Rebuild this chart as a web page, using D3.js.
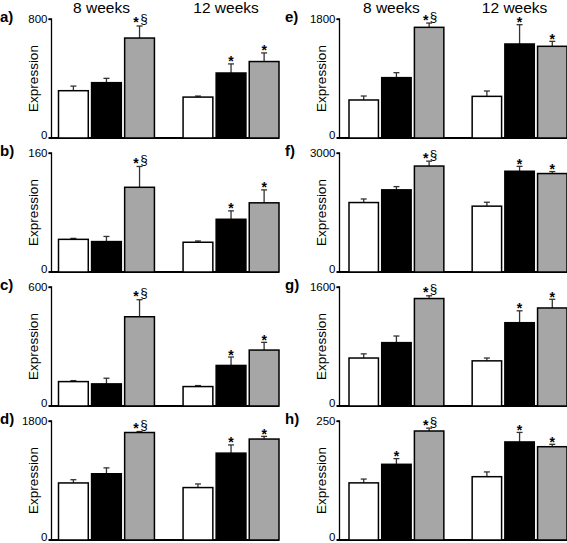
<!DOCTYPE html>
<html>
<head>
<meta charset="utf-8">
<script src="https://cdn.jsdelivr.net/npm/d3@7"></script>
<style>
  body { margin: 0; background: #fff; }
  svg { display: block; }
  text { font-family: "Liberation Sans", Arial, sans-serif; }
</style>
</head>
<body>
<svg id="chart" width="567" height="543"></svg>
<script>
// ---- data ----
const groups = ["8 weeks", "12 weeks"];
const series = ["control", "treatA", "treatB"];
const panelLabels = ["a)", "b)", "c)", "d)", "e)", "f)", "g)", "h)"];
const yMaxes = [800, 160, 600, 1800, 1800, 3000, 1600, 250];
// means: [8w ctrl, 8w A, 8w B, 12w ctrl, 12w A, 12w B]
const meansA = [318, 372, 672, 275, 437, 514];
const meansB = [43.9, 40.9, 113.9, 40, 70.9, 93];
const meansC = [123, 111.5, 450, 98, 204.5, 282];
const meansD = [863, 1002, 1626, 793, 1314, 1527];
const meansE = [575, 913, 1674, 630, 1422, 1387];
const meansF = [1751, 2071, 2671, 1660, 2540, 2482];
const meansG = [645, 852, 1445, 607, 1120, 1318];
const meansH = [120, 159, 229, 133, 206, 196];
// standard errors (upper)
const semA = [31, 29, 81, 7, 61, 58];
const semB = [1.3, 6.9, 28, 1.7, 11.3, 17.4];
const semC = [5, 28.5, 86, 5, 42.5, 39];
const semD = [49, 89, 15, 55, 124, 40];
const semE = [60, 75, 65, 81, 292, 75];
const semF = [90, 82, 124, 99, 123, 50];
const semG = [56, 89, 37, 38, 160, 117];
const semH = [8, 12, 6, 10, 20, 5];
// significance markers
const sigStd = ["", "", "*§", "", "*", "*"];
const sigH = ["", "*", "*§", "", "*", "*"];

const allMeans = [meansA, meansB, meansC, meansD, meansE, meansF, meansG, meansH];
const allSem = [semA, semB, semC, semD, semE, semF, semG, semH];
const allSig = [sigStd, sigStd, sigStd, sigStd, sigStd, sigStd, sigStd, sigH];

// ---- layout ----
const svg = d3.select("#chart");
const columns = [
  { axis: 51.5, x0: 58.5, x1: 279, labelX: 0 },
  { axis: 339.5, x0: 349, x1: 567, labelX: 285 }
];
const baselines = [138, 272, 406, 540];
const plotH = 119;
const fills = ["#ffffff", "#000000", "#a6a6a6"];

panelLabels.forEach((lab, i) => {
  const col = columns[Math.floor(i / 4)];
  const row = i % 4;
  const base = baselines[row];
  const top = base - plotH;
  const g = svg.append("g");

  const x0 = d3.scaleBand().domain(groups).range([col.x0, col.x1])
    .paddingInner(0.23).paddingOuter(0);
  const x1 = d3.scaleBand().domain(series).range([0, x0.bandwidth()])
    .paddingInner(0.1).paddingOuter(0);
  const y = d3.scaleLinear().domain([0, yMaxes[i]]).range([base, top]);

  // y axis
  const yAxis = d3.axisLeft(y).tickValues([0, yMaxes[i]]).tickSize(3).tickPadding(1)
    .tickFormat(d3.format("d"));
  const ya = g.append("g").attr("transform", `translate(${col.axis},0)`).call(yAxis);
  ya.select(".domain").attr("d", `M-3,${top}H0V${base}`).attr("stroke", "#000").attr("stroke-width", 1.3);
  ya.selectAll(".tick line").attr("stroke", "#000").attr("stroke-width", 1.3);
  ya.selectAll(".tick text").attr("font-size", 11.5).attr("fill", "#000")
    .attr("font-family", "'Liberation Sans', Arial, sans-serif");
  ya.selectAll(".tick").filter(d => d === 0).select("text").attr("dy", "0.05em");
  ya.selectAll(".tick").filter(d => d === 0).select("line").remove();

  // x axis baseline
  g.append("line").attr("x1", col.axis - 3).attr("x2", col.x1)
    .attr("y1", y(0)).attr("y2", y(0)).attr("stroke", "#000").attr("stroke-width", 1.8);

  // y label
  g.append("text").attr("transform", `translate(${col.axis - 14},${(top + base) / 2}) rotate(-90)`)
    .attr("text-anchor", "middle").attr("font-size", 13.5).text("Expression");

  // panel label
  g.append("text").attr("x", col.labelX).attr("y", top + 3)
    .attr("font-size", 15).attr("font-weight", "bold").text(lab);

  const data = [];
  groups.forEach((gr, gi) => series.forEach((s, si) => {
    const k = gi * 3 + si;
    data.push({ gr, s, si, m: allMeans[i][k], e: allSem[i][k], sig: allSig[i][k] });
  }));
  const cx = d => x0(d.gr) + x1(d.s) + x1.bandwidth() / 2;

  // error bars (upper only)
  const eb = g.selectAll(".err").data(data).enter().append("g");
  eb.append("line")
    .attr("x1", cx).attr("x2", cx)
    .attr("y1", d => y(d.m)).attr("y2", d => y(d.m + d.e))
    .attr("stroke", "#333").attr("stroke-width", 1.3);
  eb.append("line")
    .attr("x1", d => cx(d) - 3).attr("x2", d => cx(d) + 3)
    .attr("y1", d => y(d.m + d.e)).attr("y2", d => y(d.m + d.e))
    .attr("stroke", "#333").attr("stroke-width", 1.3);

  // bars
  g.selectAll(".bar").data(data).enter().append("rect")
    .attr("x", d => x0(d.gr) + x1(d.s))
    .attr("y", d => y(d.m))
    .attr("width", x1.bandwidth())
    .attr("height", d => y(0) - y(d.m))
    .attr("fill", d => fills[d.si])
    .attr("stroke", "#000").attr("stroke-width", 1.5);

  // significance marks
  const sigs = data.filter(d => d.sig);
  sigs.forEach(d => {
    const et = y(d.m + d.e);
    if (d.sig === "*") {
      g.append("text").attr("x", cx(d)).attr("y", et + 2.5)
        .attr("text-anchor", "middle").attr("font-size", 14).attr("font-weight", "bold")
        .text("*");
    } else {
      const t = g.append("text").attr("x", cx(d) + 1).attr("y", et - 2.5)
        .attr("text-anchor", "middle").attr("font-size", 13.5);
      t.append("tspan").attr("font-weight", "bold").attr("font-size", 14).attr("dy", 4).text("*");
      t.append("tspan").attr("dx", 1.5).attr("dy", -4).text("§");
    }
  });

  // group titles on top row
  if (row === 0) {
    g.selectAll(".title").data(groups).enter().append("text")
      .attr("x", d => x0(d) + x0.bandwidth() / 2 - 5)
      .attr("y", 12.5)
      .attr("text-anchor", "middle").attr("font-size", 15.5)
      .text(d => d);
  }
});
</script>
</body>
</html>
